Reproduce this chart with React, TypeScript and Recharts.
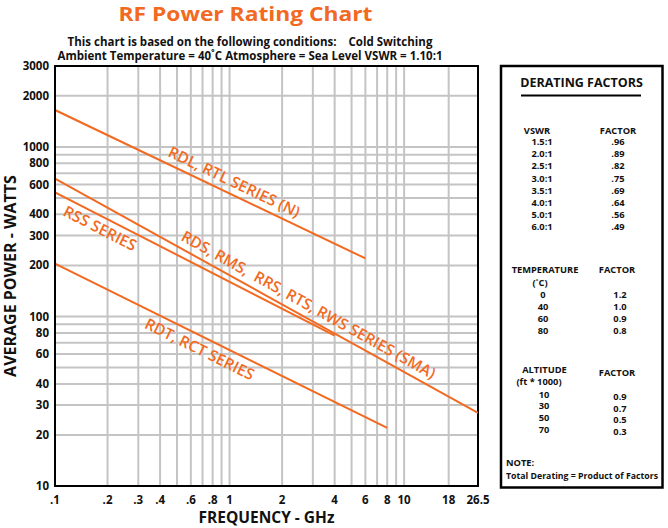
import React from 'react';
import { LineChart, Line, XAxis, YAxis, CartesianGrid, ReferenceDot, ReferenceArea } from 'recharts';

// ---------- data ----------
const xGridValues = [0.1, 0.2, 0.3, 0.4, 0.5, 0.6, 0.7, 0.8, 0.9, 1, 2, 3, 4, 5, 6, 7, 8, 9, 10, 18, 26.5];
const xTickLabels = [0.1, 0.2, 0.3, 0.4, 0.6, 0.8, 1, 2, 4, 6, 8, 10, 18, 26.5];
const yGridValues = [10, 20, 30, 40, 50, 60, 70, 80, 90, 100, 200, 300, 400, 500, 600, 700, 800, 900, 1000, 2000, 3000];
const yTickLabels = [10, 20, 30, 40, 60, 80, 100, 200, 300, 400, 600, 800, 1000, 2000, 3000];

const rdlFreq = [0.1, 6];
const rdlPower = [1650, 220];
const smaFreq = [0.1, 26.5];
const smaPower = [650, 27];
const rssFreq = [0.1, 4];
const rssPower = [540, 77];
const rdtFreq = [0.1, 8];
const rdtPower = [205, 22];

const seriesNames = [
  'RDL, RTL SERIES (N)',
  'RDS, RMS,  RRS, RTS, RWS SERIES (SMA)',
  'RSS SERIES',
  'RDT, RCT SERIES',
];

const vswrRatios = ['1.5:1', '2.0:1', '2.5:1', '3.0:1', '3.5:1', '4.0:1', '5.0:1', '6.0:1'];
const vswrFactors = ['.96', '.89', '.82', '.75', '.69', '.64', '.56', '.49'];
const tempValues = ['0', '40', '60', '80'];
const tempFactors = ['1.2', '1.0', '0.9', '0.8'];
const altValues = ['10', '30', '50', '70'];
const altFactors = ['0.9', '0.7', '0.5', '0.3'];

// ---------- style ----------
const ORANGE = '#f26a21';
const GRID = '#c4c4c4';
const FONT = "'Open Sans', 'Noto Sans', sans-serif";
const W = 668;
const H = 528;
const M = { top: 66, right: 190, bottom: 6, left: 5 };
const Y_AXIS_W = 50;
const X_AXIS_H = 36;
const PLOT_W = W - M.left - M.right - Y_AXIS_W;
const PLOT_H = H - M.top - M.bottom - X_AXIS_H;
const X_DOMAIN: [number, number] = [0.1, 26.5];
const Y_DOMAIN: [number, number] = [10, 3000];

const toRows = (f: number[], p: number[]) => f.map((v, i) => ({ f: v, p: p[i] }));

const lg = Math.log10;
const angleOf = (f: number[], p: number[]) => {
  const dx = (lg(f[1] / f[0]) / lg(X_DOMAIN[1] / X_DOMAIN[0])) * PLOT_W;
  const dy = (lg(p[0] / p[1]) / lg(Y_DOMAIN[1] / Y_DOMAIN[0])) * PLOT_H;
  return (Math.atan2(dy, dx) * 180) / Math.PI;
};
const pointAt = (f: number[], p: number[], t: number) => ({
  x: Math.pow(10, lg(f[0]) + t * (lg(f[1]) - lg(f[0]))),
  y: Math.pow(10, lg(p[0]) + t * (lg(p[1]) - lg(p[0]))),
});

const series = [
  { f: rdlFreq, p: rdlPower, name: seriesNames[0], t: 0.56, dy: -7 },
  { f: smaFreq, p: smaPower, name: seriesNames[1], t: 0.585, dy: -7 },
  { f: rssFreq, p: rssPower, name: seriesNames[2], t: 0.18, dy: 17 },
  { f: rdtFreq, p: rdtPower, name: seriesNames[3], t: 0.452, dy: 18 },
];

const fmtX = (v: number) => (xTickLabels.includes(v) ? (v < 1 ? String(v).replace(/^0/, '') : String(v)) : '');
const fmtY = (v: number) => (yTickLabels.includes(v) ? String(v) : '');

const tickStyle = { fill: '#111', fontSize: 11.5, fontWeight: 700, fontFamily: FONT };

const boxText = { fontFamily: FONT, fontSize: 9.3, fontWeight: 700, fill: '#111' } as const;

export default function App() {
  return (
    <div style={{ position: 'absolute', left: 0, top: 0, width: W, height: H, background: '#fff' }}>
      <LineChart width={W} height={H} margin={M}>
        <CartesianGrid stroke={GRID} strokeWidth={2} />
        <XAxis
          dataKey="f"
          type="number"
          scale="log"
          domain={X_DOMAIN}
          ticks={xGridValues}
          interval={0}
          allowDataOverflow
          tickFormatter={fmtX}
          tickLine={false}
          tickSize={8}
          tick={tickStyle}
          axisLine={{ stroke: '#000', strokeWidth: 2 }}
          height={X_AXIS_H}
          label={{
            value: 'FREQUENCY - GHz',
            position: 'insideBottom',
            offset: -1,
            style: { fill: '#111', fontSize: 15.5, fontWeight: 700, fontFamily: FONT },
          }}
        />
        <YAxis
          dataKey="p"
          type="number"
          scale="log"
          domain={Y_DOMAIN}
          ticks={yGridValues}
          interval={0}
          allowDataOverflow
          tickFormatter={fmtY}
          tickLine={false}
          tickSize={4}
          tick={tickStyle}
          axisLine={{ stroke: '#000', strokeWidth: 2 }}
          width={Y_AXIS_W}
          label={{
            value: 'AVERAGE POWER - WATTS',
            angle: -90,
            position: 'insideLeft',
            offset: 5,
            style: { fill: '#111', fontSize: 16, fontWeight: 700, fontFamily: FONT, textAnchor: 'middle' },
          }}
        />
        <ReferenceArea x1={X_DOMAIN[0]} x2={X_DOMAIN[1]} y1={Y_DOMAIN[0]} y2={Y_DOMAIN[1]} fill="none" stroke="#000" strokeWidth={2} />
        {series.map((s) => (
          <Line
            key={s.name}
            data={toRows(s.f, s.p)}
            dataKey="p"
            stroke={ORANGE}
            strokeWidth={2}
            dot={false}
            isAnimationActive={false}
          />
        ))}
        {series.map((s) => {
          const pt = pointAt(s.f, s.p, s.t);
          const ang = angleOf(s.f, s.p);
          return (
            <ReferenceDot
              key={'lbl-' + s.name}
              x={pt.x}
              y={pt.y}
              r={1}
              shape={(props: any) => (
                <text
                  x={props.cx}
                  y={props.cy}
                  dy={s.dy}
                  transform={`rotate(${ang} ${props.cx} ${props.cy})`}
                  textAnchor="middle"
                  fill={ORANGE}
                  fontSize={15.5}
                  fontWeight={600}
                  fontFamily={FONT}
                  style={{ whiteSpace: 'pre' }}
                >
                  {s.name}
                </text>
              )}
            />
          );
        })}
      </LineChart>
      <svg width={W} height={H} style={{ position: 'absolute', left: 0, top: 0, pointerEvents: 'none' }}>
        <text x={245.5} y={21} textAnchor="middle" fill={ORANGE} fontSize={20} fontWeight={700} fontFamily={FONT} textLength={254} lengthAdjust="spacingAndGlyphs">
          RF Power Rating Chart
        </text>
        <text x={250} y={46} textAnchor="middle" fill="#111" fontSize={11.5} fontWeight={700} fontFamily={FONT} style={{ whiteSpace: 'pre' }}>
          {'This chart is based on the following conditions:    Cold Switching'}
        </text>
        <text x={250} y={59.5} textAnchor="middle" fill="#111" fontSize={11.5} fontWeight={700} fontFamily={FONT}>
          Ambient Temperature = 40˚C Atmosphere = Sea Level VSWR = 1.10:1
        </text>

        <rect x={501} y={66} width={161.5} height={421.5} fill="none" stroke="#000" strokeWidth={2.5} />
        <text x={581.5} y={87} textAnchor="middle" {...boxText} fontSize={12.5}>DERATING FACTORS</text>
        <line x1={521} x2={641} y1={95.5} y2={95.5} stroke="#000" strokeWidth={2} />

        <text x={537} y={133.5} textAnchor="middle" {...boxText}>VSWR</text>
        <text x={618} y={133.5} textAnchor="middle" {...boxText}>FACTOR</text>
        {vswrRatios.map((r, i) => (
          <text key={'vr' + r} x={542} y={145.1 + i * 12.14} textAnchor="middle" {...boxText}>{r}</text>
        ))}
        {vswrFactors.map((r, i) => (
          <text key={'vf' + i} x={618} y={145.1 + i * 12.14} textAnchor="middle" {...boxText}>{r}</text>
        ))}

        <text x={545} y={273.4} textAnchor="middle" {...boxText}>TEMPERATURE</text>
        <text x={617} y={273.4} textAnchor="middle" {...boxText}>FACTOR</text>
        <text x={540} y={286.2} textAnchor="middle" {...boxText}>(˚C)</text>
        {tempValues.map((r, i) => (
          <text key={'tv' + r} x={543} y={298.2 + i * 11.8} textAnchor="middle" {...boxText}>{r}</text>
        ))}
        {tempFactors.map((r, i) => (
          <text key={'tf' + i} x={620} y={298.2 + i * 11.8} textAnchor="middle" {...boxText}>{r}</text>
        ))}

        <text x={544.5} y={373.4} textAnchor="middle" {...boxText}>ALTITUDE</text>
        <text x={617} y={376.4} textAnchor="middle" {...boxText}>FACTOR</text>
        <text x={539} y={385.1} textAnchor="middle" {...boxText}>(ft * 1000)</text>
        {altValues.map((r, i) => (
          <text key={'av' + r} x={544} y={397.7 + i * 11.6} textAnchor="middle" {...boxText}>{r}</text>
        ))}
        {altFactors.map((r, i) => (
          <text key={'af' + i} x={620} y={399.9 + i * 11.6} textAnchor="middle" {...boxText}>{r}</text>
        ))}

        <text x={506} y={466.4} {...boxText}>NOTE:</text>
        <text x={506} y={479} {...boxText} fontSize={8.6} textLength={152} lengthAdjust="spacingAndGlyphs">
          Total Derating = Product of Factors
        </text>
      </svg>
    </div>
  );
}
